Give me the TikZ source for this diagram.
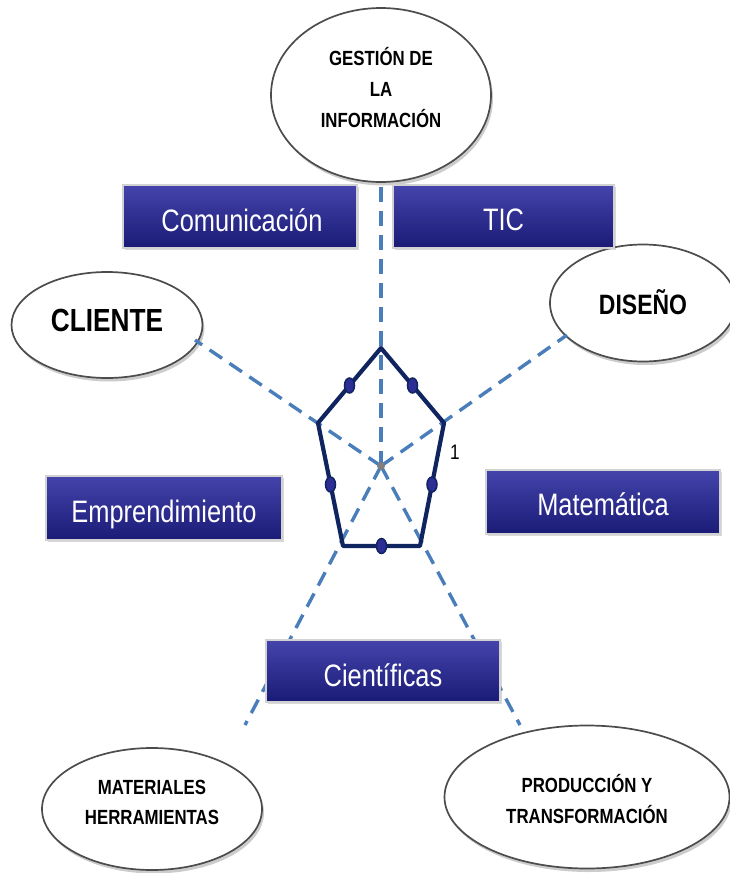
\documentclass[tikz,border=0pt]{standalone}
\usepackage{fontspec}
\setmainfont[FakeStretch=0.82]{Liberation Sans}
\usetikzlibrary{shapes.geometric,shadows,calc}
\definecolor{boxtop}{RGB}{68,68,172}
\definecolor{boxbot}{RGB}{26,26,118}
\definecolor{spoke}{RGB}{74,126,187}
\definecolor{penta}{RGB}{16,36,96}
\definecolor{dotfill}{RGB}{45,45,150}
\begin{document}
\begin{tikzpicture}[x=1pt,y=-1pt,
 bubble/.style={ellipse, draw=black!70, line width=1.7pt, fill=white, inner sep=0pt,
   drop shadow={opacity=0.4, shadow xshift=2pt, shadow yshift=-3.5pt}},
 btext/.style={align=center, inner sep=0pt},
 tag/.style={rectangle, draw=gray!35, line width=1.4pt, top color=boxtop, bottom color=boxbot,
   inner sep=0pt, drop shadow={opacity=0.3, shadow xshift=2pt, shadow yshift=-2pt}},
 tagtext/.style={text=white, inner sep=0pt, font=\fontsize{31}{36}\selectfont},
 spokeline/.style={draw=spoke, line width=3.4pt, dash pattern=on 15pt off 9pt},
 edgedot/.style={ellipse, draw=penta, line width=1.5pt, fill=dotfill, minimum width=10pt, minimum height=15pt, inner sep=0pt},
]
\useasboundingbox (0,0) rectangle (730,873);

% bubbles
\node[bubble, minimum width=220pt, minimum height=174pt] (gest) at (381,95) {};
\node[btext, font=\bfseries\fontsize{20.5}{31}\selectfont] (gestT) at (381,88) {GESTIÓN DE\\LA\\INFORMACIÓN};
\node[bubble, minimum width=191pt, minimum height=106pt] (cli) at (107,325) {};
\node[btext, font=\bfseries\fontsize{32}{36}\selectfont] (cliT) at (107,320) {CLIENTE};
\node[bubble, minimum width=186pt, minimum height=117pt] (dis) at (643,303) {};
\node[btext, font=\bfseries\fontsize{28}{32}\selectfont] (disT) at (643,302) {DISEÑO};
\node[bubble, minimum width=220pt, minimum height=122pt] (mat) at (152,809) {};
\node[btext, font=\bfseries\fontsize{20.5}{30}\selectfont] (matT) at (152,802) {MATERIALES\\HERRAMIENTAS};
\node[bubble, minimum width=285pt, minimum height=143pt] (prod) at (587,797) {};
\node[btext, font=\bfseries\fontsize{20.5}{31}\selectfont] (prodT) at (587,799) {PRODUCCIÓN Y\\TRANSFORMACIÓN};

% spoke ends
\coordinate (c) at (381,466);
\coordinate (cliE) at (195,340);
\coordinate (disE) at (567,335);
\coordinate (matE) at (245,725);
\coordinate (prodE) at (520,725);

\draw[spokeline] (c) -- (gest.south);
\draw[spokeline] (c) -- (cliE);
\draw[spokeline] (c) -- (disE);
\draw[spokeline] (c) -- (matE);
\draw[spokeline] (c) -- (prodE);

% pentagon
\coordinate (p1) at (381,348);
\coordinate (p2) at (444,423);
\coordinate (p3) at (420,546);
\coordinate (p4) at (343,546);
\coordinate (p5) at (318,423);
\draw[penta, line width=4.2pt, line join=round] (p1) -- (p2) -- (p3) -- (p4) -- (p5) -- cycle;
\node[edgedot] (d1) at ($(p1)!0.5!(p2)$) {};
\node[edgedot] (d2) at ($(p2)!0.5!(p3)$) {};
\node[edgedot] (d3) at ($(p3)!0.5!(p4)$) {};
\node[edgedot] (d4) at ($(p4)!0.5!(p5)$) {};
\node[edgedot] (d5) at ($(p5)!0.5!(p1)$) {};
\fill[gray] (c) circle (4pt);
\node[font=\fontsize{21}{24}\selectfont] (one) at (455,452) {1};

% boxes
\node[tag, minimum width=234pt, minimum height=63pt] (com) at (240,216.5) {};
\node[tagtext] (comT) at (242,220) {Comunicación};
\node[tag, minimum width=221pt, minimum height=63pt] (tic) at (503.5,216.5) {};
\node[tagtext] (ticT) at (503.5,220) {TIC};
\node[tag, minimum width=236pt, minimum height=64pt] (emp) at (164,508) {};
\node[tagtext] (empT) at (164,514) {Emprendimiento};
\node[tag, minimum width=234pt, minimum height=64pt] (mate) at (603,502) {};
\node[tagtext] (mateT) at (603,504) {Matemática};
\node[tag, minimum width=234pt, minimum height=62pt] (cie) at (383,671) {};
\node[tagtext] (cieT) at (383,675) {Científicas};
\end{tikzpicture}
\end{document}
